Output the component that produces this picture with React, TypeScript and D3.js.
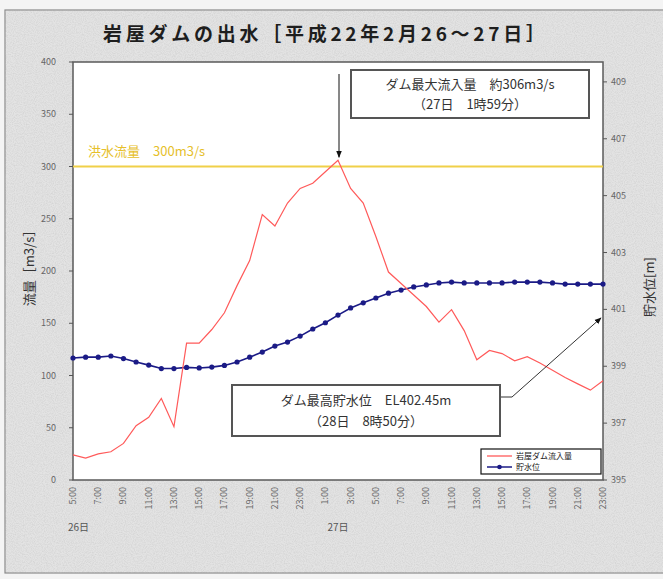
import React from "react"
import * as d3 from "d3"

// hourly, 26日 5:00 -> 27日 23:00
const HOURS = [
  "5:00", "6:00", "7:00", "8:00", "9:00", "10:00", "11:00", "12:00", "13:00", "14:00",
  "15:00", "16:00", "17:00", "18:00", "19:00", "20:00", "21:00", "22:00", "23:00", "0:00",
  "1:00", "2:00", "3:00", "4:00", "5:00", "6:00", "7:00", "8:00", "9:00", "10:00",
  "11:00", "12:00", "13:00", "14:00", "15:00", "16:00", "17:00", "18:00", "19:00", "20:00",
  "21:00", "22:00", "23:00",
]

// 岩屋ダム流入量 (m3/s)
const INFLOW = [
  24, 21, 25, 27, 35, 52, 60, 78, 51, 131,
  131, 144, 160, 186, 210, 254, 243, 265, 279, 284,
  295, 306, 279, 265, 233, 199, 188, 177, 166, 151,
  163, 143, 115, 124, 121, 114, 118, 112, 105, 98,
  92, 86, 95,
]

// 貯水位 (m)
const LEVEL = [
  399.29, 399.32, 399.32, 399.36, 399.27, 399.15, 399.04, 398.92, 398.92, 398.96,
  398.94, 398.97, 399.03, 399.15, 399.32, 399.5, 399.71, 399.85, 400.06, 400.31,
  400.53, 400.8, 401.05, 401.23, 401.4, 401.57, 401.68, 401.79, 401.86, 401.93,
  401.96, 401.93, 401.93, 401.93, 401.93, 401.96, 401.96, 401.96, 401.93, 401.89,
  401.89, 401.89, 401.89,
]

const FLOW_TICKS = [0, 50, 100, 150, 200, 250, 300, 350, 400]
const LEVEL_TICKS = [395, 397, 399, 401, 403, 405, 407, 409]
const FLOOD_FLOW = 300
const PEAK_INDEX = 21

const FONT = "'Noto Sans CJK JP', 'Noto Sans', sans-serif"
const RED = "#ff5a5a"
const BLUE = "#1b1b86"
const YELLOW = "#f0d048"

export default function App() {
  const W = 663
  const H = 579
  const plot = { left: 73, right: 603, top: 62, bottom: 480 }

  const x = d3.scalePoint<number>().domain(d3.range(HOURS.length)).range([plot.left, plot.right])
  const yFlow = d3.scaleLinear().domain([0, 400]).range([plot.bottom, plot.top])
  const yLevel = d3.scaleLinear().domain([395, 409.7]).range([plot.bottom, plot.top])

  const flowLine = d3
    .line<number>()
    .x((_d, i) => x(i)!)
    .y((d) => yFlow(d))
  const levelLine = d3
    .line<number>()
    .x((_d, i) => x(i)!)
    .y((d) => yLevel(d))

  const peakX = x(PEAK_INDEX)!
  const peakY = yFlow(INFLOW[PEAK_INDEX])
  const lastX = x(HOURS.length - 1)!

  return (
    <svg
      width={W}
      height={H}
      style={{ position: "absolute", left: 0, top: 0, fontFamily: FONT }}
    >
      <defs>
        <filter id="noise" x="0" y="0" width="100%" height="100%">
          <feTurbulence type="fractalNoise" baseFrequency="0.9" numOctaves="2" seed="3" result="t" />
          <feColorMatrix
            in="t"
            type="matrix"
            values="0 0 0 0 0.55  0 0 0 0 0.55  0 0 0 0 0.55  0 0 0 1.4 -0.5"
          />
        </filter>
        <marker id="arrow" viewBox="0 0 10 10" refX="9" refY="5" markerWidth="7" markerHeight="7" orient="auto">
          <path d="M0,1 L10,5 L0,9 z" fill="#111" />
        </marker>
      </defs>

      {/* background */}
      <rect x={0} y={0} width={W} height={H} fill="#f4f4f4" />
      <rect x={5} y={10} width={W} height={H - 16} fill="#e3e3e3" stroke="#8a8a8a" strokeWidth={1.2} />
      <rect x={5} y={10} width={W} height={H - 16} filter="url(#noise)" opacity={0.65} />

      {/* title */}
      <text x={103} y={41} fontSize={19} fontWeight={700} fill="#1e1e1e" textLength={442} lengthAdjust="spacing">
        岩屋ダムの出水［平成22年2月26～27日］
      </text>

      {/* plot area */}
      <rect
        x={plot.left}
        y={plot.top}
        width={plot.right - plot.left}
        height={plot.bottom - plot.top}
        fill="#fff"
        stroke="#5a5a5a"
        strokeWidth={1.5}
      />

      {/* left axis */}
      {FLOW_TICKS.map((t) => (
        <g key={"f" + t}>
          <line x1={plot.left - 4} x2={plot.left} y1={yFlow(t)} y2={yFlow(t)} stroke="#555" />
          <text x={56} y={yFlow(t) + 3} fontSize={9} fill="#666" textAnchor="end">
            {t}
          </text>
        </g>
      ))}
      <text transform="translate(34,265) rotate(-90)" fontSize={13} fill="#333" textAnchor="middle">
        流量［m3/s］
      </text>

      {/* right axis */}
      {LEVEL_TICKS.map((t) => (
        <g key={"l" + t}>
          <line x1={plot.right} x2={plot.right + 4} y1={yLevel(t)} y2={yLevel(t)} stroke="#555" />
          <text x={611} y={yLevel(t) + 3} fontSize={9} fill="#666">
            {t}
          </text>
        </g>
      ))}
      <text transform="translate(654,287) rotate(-90)" fontSize={13} fill="#333" textAnchor="middle">
        貯水位[m]
      </text>

      {/* x axis labels */}
      {HOURS.map((h, i) =>
        i % 2 === 0 ? (
          <text
            key={"h" + i}
            transform={`translate(${x(i)! + 3},${plot.bottom + 7}) rotate(-90)`}
            fontSize={9}
            fill="#666"
            textAnchor="end"
          >
            {h}
          </text>
        ) : null
      )}
      <text x={x(0)! - 5} y={531} fontSize={10} fill="#555">
        26日
      </text>
      <text x={x(20)! + 2} y={531} fontSize={10} fill="#555">
        27日
      </text>

      {/* flood flow */}
      <line x1={plot.left} x2={plot.right} y1={yFlow(FLOOD_FLOW)} y2={yFlow(FLOOD_FLOW)} stroke={YELLOW} strokeWidth={2} />
      <text x={88} y={yFlow(FLOOD_FLOW) - 11} fontSize={13} fill="#e6c02a">
        洪水流量　300m3/s
      </text>

      {/* series */}
      <path d={levelLine(LEVEL)!} fill="none" stroke={BLUE} strokeWidth={1.6} />
      {LEVEL.map((v, i) => (
        <circle key={"p" + i} cx={x(i)} cy={yLevel(v)} r={2.6} fill={BLUE} />
      ))}
      <path d={flowLine(INFLOW)!} fill="none" stroke={RED} strokeWidth={1.2} />

      {/* peak inflow annotation */}
      <line x1={peakX + 1} x2={peakX + 1} y1={74} y2={peakY - 3} stroke="#111" strokeWidth={1} markerEnd="url(#arrow)" />
      <rect x={351} y={70} width={238} height={48} fill="#fff" stroke="#555" strokeWidth={2} />
      <text x={470} y={89} fontSize={13} fill="#333" textAnchor="middle">
        ダム最大流入量　約306m3/s
      </text>
      <text x={470} y={109} fontSize={13} fill="#333" textAnchor="middle">
        （27日　1時59分）
      </text>

      {/* max level annotation */}
      <polyline
        points={`500,397 512,397 ${lastX - 2},${yLevel(400.7)}`}
        fill="none"
        stroke="#333"
        strokeWidth={1}
        markerEnd="url(#arrow)"
      />
      <rect x={232} y={385} width={268} height={51} fill="#fff" stroke="#555" strokeWidth={2} />
      <text x={366} y={405} fontSize={13} fill="#333" textAnchor="middle">
        ダム最高貯水位　EL402.45m
      </text>
      <text x={366} y={426} fontSize={13} fill="#333" textAnchor="middle">
        （28日　8時50分）
      </text>

      {/* legend */}
      <rect x={481} y={449} width={120} height={25} fill="#fff" stroke="#111" strokeWidth={1.2} />
      <line x1={487} x2={512} y1={456} y2={456} stroke={RED} strokeWidth={1.3} />
      <text x={516} y={459} fontSize={8} fill="#222">
        岩屋ダム流入量
      </text>
      <line x1={487} x2={512} y1={467} y2={467} stroke={BLUE} strokeWidth={1.5} />
      <circle cx={499.5} cy={467} r={2.3} fill={BLUE} />
      <text x={516} y={470} fontSize={8} fill="#222">
        貯水位
      </text>
    </svg>
  )
}
